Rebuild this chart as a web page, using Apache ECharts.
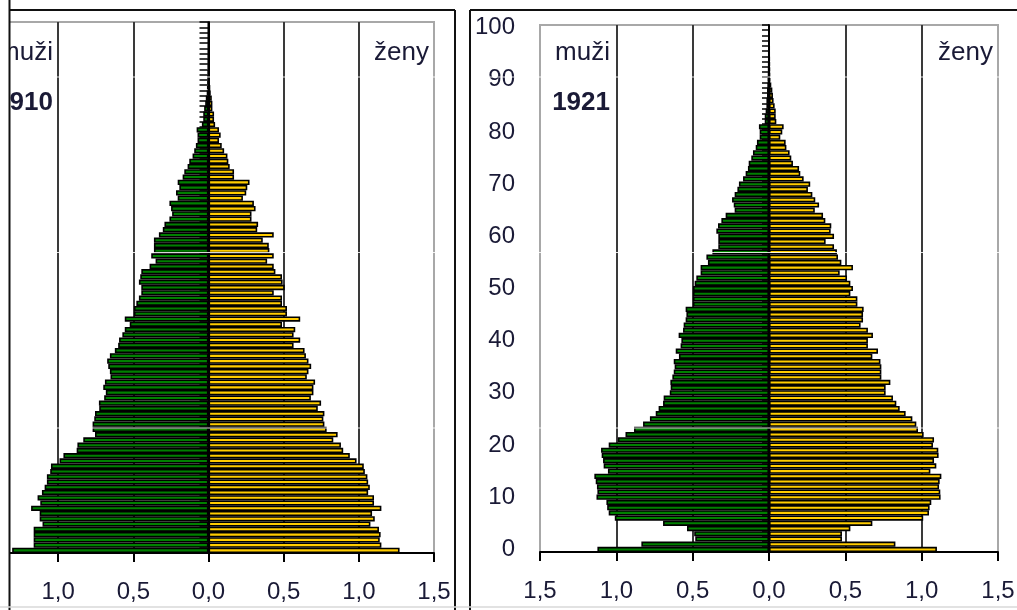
<!DOCTYPE html>
<html><head><meta charset="utf-8">
<script src="https://cdn.jsdelivr.net/npm/echarts@6/dist/echarts.min.js"></script>
<style>html,body{margin:0;padding:0;background:#fff}#c{width:1017px;height:610px}</style>
</head><body><div id="c"></div><script>
// Age categories (years)
const ages = [0,1,2,3,4,5,6,7,8,9,10,11,12,13,14,15,16,17,18,19,20,21,22,23,24,25,26,27,28,29,30,31,32,33,34,35,36,37,38,39,40,41,42,43,44,45,46,47,48,49,50,51,52,53,54,55,56,57,58,59,60,61,62,63,64,65,66,67,68,69,70,71,72,73,74,75,76,77,78,79,80,81,82,83,84,85,86,87,88,89,90,91,92,93,94,95,96,97,98,99,100];
const xTickLabels = ['1,5','1,0','0,5','0,0','0,5','1,0','1,5'];
const years = ['1910','1921'];
const sexLabels = ['muži','ženy'];

// share of population (%) per single year of age
const male1910 = [1.306,1.163,1.163,1.163,1.163,1.104,1.123,1.123,1.18,1.119,1.137,1.108,1.09,1.075,1.075,1.053,1.048,0.991,0.965,0.877,0.872,0.833,0.755,0.771,0.771,0.76,0.755,0.727,0.729,0.694,0.683,0.70,0.689,0.652,0.656,0.667,0.674,0.656,0.623,0.601,0.595,0.573,0.557,0.524,0.557,0.496,0.496,0.48,0.463,0.447,0.447,0.463,0.454,0.447,0.392,0.352,0.381,0.363,0.363,0.363,0.33,0.304,0.293,0.26,0.242,0.249,0.26,0.205,0.216,0.194,0.205,0.172,0.161,0.139,0.128,0.106,0.095,0.084,0.073,0.073,0.079,0.044,0.035,0.035,0.029,0.022,0.018,0.012,0.01,0.008,0.006,0.005,0.004,0.003,0.003,0.002,0.002,0.001,0.001,0.001,0.001];
const female1910 = [1.271,1.15,1.139,1.145,1.134,1.077,1.106,1.088,1.15,1.101,1.101,1.062,1.073,1.062,1.057,1.04,1.033,0.985,0.94,0.896,0.881,0.83,0.859,0.786,0.771,0.764,0.771,0.727,0.749,0.681,0.698,0.698,0.709,0.654,0.665,0.683,0.665,0.648,0.639,0.566,0.61,0.566,0.577,0.489,0.61,0.522,0.522,0.489,0.489,0.434,0.507,0.493,0.489,0.445,0.434,0.39,0.434,0.405,0.401,0.361,0.434,0.324,0.33,0.286,0.286,0.313,0.302,0.229,0.251,0.258,0.273,0.17,0.17,0.141,0.132,0.126,0.104,0.088,0.07,0.081,0.07,0.044,0.037,0.037,0.026,0.026,0.022,0.015,0.012,0.008,0.006,0.005,0.004,0.003,0.003,0.002,0.002,0.001,0.001,0.001,0.001];
const male1921 = [1.124,0.836,0.483,0.49,0.537,0.694,1.01,1.05,1.06,1.065,1.13,1.124,1.127,1.135,1.144,1.055,1.083,1.087,1.096,1.10,1.05,0.99,0.94,0.884,0.825,0.78,0.742,0.723,0.694,0.69,0.65,0.644,0.646,0.633,0.624,0.618,0.624,0.59,0.611,0.579,0.574,0.592,0.563,0.559,0.546,0.541,0.546,0.498,0.498,0.498,0.498,0.487,0.476,0.448,0.448,0.40,0.41,0.371,0.332,0.332,0.332,0.345,0.334,0.312,0.284,0.225,0.231,0.242,0.225,0.207,0.197,0.17,0.153,0.138,0.133,0.116,0.105,0.087,0.079,0.061,0.061,0.066,0.028,0.028,0.022,0.017,0.017,0.013,0.013,0.011,0.009,0.006,0.005,0.004,0.003,0.003,0.002,0.002,0.001,0.001,0.001];
const female1921 = [1.10,0.828,0.478,0.478,0.533,0.677,1.01,1.048,1.052,1.063,1.124,1.122,1.114,1.118,1.129,1.057,1.096,1.081,1.111,1.109,1.074,1.081,1.013,0.976,0.965,0.939,0.895,0.856,0.834,0.812,0.764,0.764,0.795,0.736,0.736,0.736,0.73,0.677,0.714,0.648,0.648,0.681,0.648,0.60,0.616,0.616,0.62,0.579,0.579,0.533,0.55,0.533,0.511,0.463,0.55,0.474,0.452,0.445,0.426,0.371,0.426,0.404,0.408,0.369,0.354,0.30,0.328,0.303,0.284,0.255,0.27,0.227,0.205,0.197,0.157,0.146,0.135,0.114,0.109,0.074,0.087,0.096,0.048,0.044,0.044,0.037,0.03,0.026,0.022,0.015,0.009,0.007,0.006,0.005,0.004,0.003,0.003,0.002,0.002,0.001,0.001];

const maleSets = [male1910, male1921];
const femaleSets = [female1910, female1921];

const FONT = '"Liberation Sans", Arial, sans-serif';
const TXT = '#1a1a36';
const GREEN = '#008000';
const YELLOW = '#FFCC00';

const gridDefs = [
  {left: -17, right: 583, top: 22, bottom: 57},
  {left: 540, right: 19, top: 25, bottom: 58}
];
const combLen = [9, 7];

const chart = echarts.init(document.getElementById('c'));

const grid = [], xAxis = [], yAxis = [], series = [];
gridDefs.forEach((g, i) => {
  grid.push(Object.assign({show: true, borderColor: '#a8a8a8', borderWidth: 2, backgroundColor: 'transparent',
    containLabel: false, outerBoundsMode: 'none'}, g));
  xAxis.push({
    gridIndex: i, type: 'value', min: -1.5, max: 1.5, interval: 0.5,
    axisLine: {show: true, onZero: false, lineStyle: {color: '#000', width: 2}},
    axisTick: {show: true, length: 9, lineStyle: {color: '#000', width: 2}},
    axisLabel: {fontSize: 24, color: TXT, fontFamily: FONT, margin: 27,
      formatter: v => xTickLabels[Math.round((v + 1.5) / 0.5)]},
    splitLine: {show: true, lineStyle: {width: 2,
      color: ['#a8a8a8', '#3a3a3a', '#3a3a3a', '#3a3a3a', '#3a3a3a', '#3a3a3a', '#a8a8a8']}}
  });
  // centre axis (at value 0) with the comb of category ticks
  yAxis.push({
    gridIndex: i, type: 'category', data: ages, position: 'right',
    axisLine: {show: true, onZero: true, lineStyle: {color: '#000', width: 2}},
    axisTick: {show: true, inside: true, interval: 0, length: combLen[i], lineStyle: {color: '#000', width: 1.5}},
    axisLabel: {show: false}, splitLine: {show: false}
  });
  // age labels at the left
  yAxis.push({
    gridIndex: i, type: 'category', data: ages, position: 'left',
    axisLine: {show: false, onZero: false}, axisTick: {show: false},
    axisLabel: {show: true, interval: (idx) => idx % 10 === 0, fontSize: 24, color: TXT, fontFamily: FONT, margin: 25},
    splitLine: {show: false}
  });
  series.push({
    type: 'bar', name: sexLabels[0] + ' ' + years[i], xAxisIndex: i, yAxisIndex: 2 * i,
    data: maleSets[i].map(v => -v), barCategoryGap: '0%', barGap: '-100%',
    itemStyle: {color: GREEN, borderColor: '#000', borderWidth: 1.6}, silent: true, z: 3
  });
  series.push({
    type: 'bar', name: sexLabels[1] + ' ' + years[i], xAxisIndex: i, yAxisIndex: 2 * i,
    data: femaleSets[i], barCategoryGap: '0%', barGap: '-100%',
    itemStyle: {color: YELLOW, borderColor: '#000', borderWidth: 1.6}, silent: true, z: 3
  });
});

const plotLeft = [gridDefs[0].left, gridDefs[1].left];
const plotRight = [1017 - gridDefs[0].right, 1017 - gridDefs[1].right];
const graphic = [];
for (let i = 0; i < 2; i++) {
  graphic.push({type: 'text', z: 50, style: {text: sexLabels[0], x: plotLeft[i] + 70, y: 53, align: 'right', verticalAlign: 'middle', font: '26px ' + FONT, fill: TXT}});
  graphic.push({type: 'text', z: 50, style: {text: years[i], x: plotLeft[i] + 70, y: 103, align: 'right', verticalAlign: 'middle', font: 'bold 26px ' + FONT, fill: TXT}});
  graphic.push({type: 'text', z: 50, style: {text: sexLabels[1], x: plotRight[i] - 5, y: 53, align: 'right', verticalAlign: 'middle', font: '26px ' + FONT, fill: TXT}});
}
// scan artefact lines
[77, 252.5, 428].forEach(y => graphic.push({type: 'line', z: 40, shape: {x1: 0, y1: y, x2: 1017, y2: y}, style: {stroke: '#fff', lineWidth: 1, opacity: 0.85}}));
// panel frames
graphic.push({type: 'rect', z: 60, shape: {x: 0, y: 0, width: 9, height: 610}, style: {fill: '#fff'}});
graphic.push({type: 'rect', z: 60, shape: {x: 0, y: 0, width: 1017, height: 9}, style: {fill: '#fff'}});
graphic.push({type: 'rect', z: 60, shape: {x: 456, y: 0, width: 13, height: 610}, style: {fill: '#fff'}});
const frameLines = [
  [9.5, 0, 9.5, 610], [9.5, 10, 455, 10], [455, 10, 455, 610],
  [470, 10, 470, 610], [470, 10, 1017, 10]
];
frameLines.forEach(l => graphic.push({type: 'line', z: 61, shape: {x1: l[0], y1: l[1], x2: l[2], y2: l[3]}, style: {stroke: '#111', lineWidth: 2}}));
graphic.push({type: 'line', z: 61, shape: {x1: 0, y1: 607, x2: 1017, y2: 607}, style: {stroke: '#d8d8d8', lineWidth: 1.5}});

chart.setOption({
  animation: false,
  backgroundColor: '#fff',
  textStyle: {fontFamily: FONT},
  grid, xAxis, yAxis, series, graphic
});
</script></body></html>
